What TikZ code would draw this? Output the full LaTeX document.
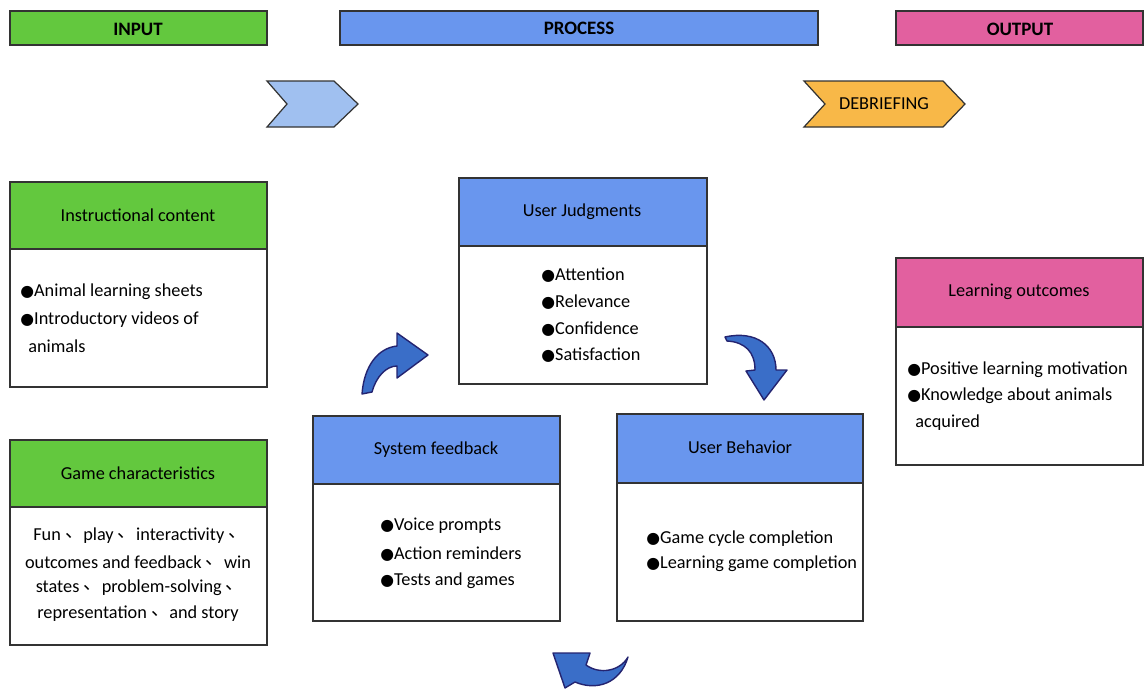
\documentclass[tikz,border=0pt]{standalone}
\usepackage{fontspec}
\setmainfont{Carlito}
\newfontfamily\symfont{DejaVu Sans}
\newfontfamily\cjk{Noto Sans CJK SC}
\definecolor{ingreen}{HTML}{63C83E}
\definecolor{procblue}{HTML}{6996EE}
\definecolor{outpink}{HTML}{E2609F}
\definecolor{chevblue}{HTML}{A0C0F0}
\definecolor{debrief}{HTML}{F8B848}
\definecolor{turnblue}{HTML}{3A6EC8}
\definecolor{edge}{HTML}{333333}
\newcommand{\bul}{{\symfont\small ●}}
\newcommand{\sep}{{\cjk\raisebox{0.35ex}{、}}}
\begin{document}
\begin{tikzpicture}[x=0.02cm,y=-0.02cm,
    box/.style={draw=edge,line width=0.7pt},
    lbl/.style={font=\fontsize{10.4}{12}\selectfont,inner sep=0pt},
    head/.style={font=\bfseries\fontsize{10.8}{12}\selectfont,inner sep=0pt},
    turn/.style={draw=edge!70!blue,line width=0.8pt,fill=turnblue,line join=round}]
  \useasboundingbox (0,0) rectangle (1145,691);
  % stage bars
  \draw[box,fill=ingreen] (10,11) rectangle (267,45);
  \draw[box,fill=procblue] (340,11) rectangle (818,45);
  \draw[box,fill=outpink] (896,11) rectangle (1143,45);
  \node[head] (input) at (138,29) {INPUT};
  \node[head] (process) at (579,28) {PROCESS};
  \node[head] (output) at (1020,29) {OUTPUT};
  % chevrons
  \draw[box,fill=chevblue] (267,81) -- (334,81) -- (358,104) -- (334,127)
    -- (267,127) -- (287,104) -- cycle;
  \draw[box,fill=debrief] (804,81) -- (943,81) -- (965,104) -- (943,127)
    -- (804,127) -- (825,104) -- cycle;
  \node[lbl] (debr) at (884,104) {DEBRIEFING};
  % input boxes
  \draw[box,fill=ingreen] (10,182) rectangle (267,249);
  \draw[box] (10,249) rectangle (267,387);
  \node[lbl] (instr) at (138,215) {Instructional content};
  \node[lbl,anchor=west] (instr1) at (20,292) {\bul Animal learning sheets};
  \node[lbl,anchor=west] (instr2) at (20,320) {\bul Introductory videos of};
  \node[lbl,anchor=west] (instr3) at (28,346) {animals};
  \draw[box,fill=ingreen] (10,440) rectangle (267,507);
  \draw[box] (10,507) rectangle (267,645);
  \node[lbl] (game) at (138,473) {Game characteristics};
  \node[lbl] (game1) at (140,536) {Fun \sep play \sep interactivity \sep};
  \node[lbl] (game2) at (138,562) {outcomes and feedback \sep win};
  \node[lbl] (game3) at (140,588) {states \sep problem-solving \sep};
  \node[lbl] (game4) at (138,614) {representation \sep and story};
  % process boxes
  \draw[box,fill=procblue] (459,178) rectangle (707,246);
  \draw[box] (459,246) rectangle (707,384);
  \node[lbl] (judge) at (582,212) {User Judgments};
  \node[lbl,anchor=west] (judge1) at (541,275) {\bul Attention};
  \node[lbl,anchor=west] (judge2) at (541,302) {\bul Relevance};
  \node[lbl,anchor=west] (judge3) at (541,329) {\bul Confidence};
  \node[lbl,anchor=west] (judge4) at (541,355) {\bul Satisfaction};
  \draw[box,fill=procblue] (313,416) rectangle (560,484);
  \draw[box] (313,484) rectangle (560,621);
  \node[lbl] (feed) at (436,450) {System feedback};
  \node[lbl,anchor=west] (feed1) at (380,526) {\bul Voice prompts};
  \node[lbl,anchor=west] (feed2) at (380,554) {\bul Action reminders};
  \node[lbl,anchor=west] (feed3) at (380,581) {\bul Tests and games};
  \draw[box,fill=procblue] (617,414) rectangle (863,483);
  \draw[box] (617,483) rectangle (863,621);
  \node[lbl] (behav) at (740,447) {User Behavior};
  \node[lbl,anchor=west] (behav1) at (646,539) {\bul Game cycle completion};
  \node[lbl,anchor=west] (behav2) at (646,564) {\bul Learning game completion};
  % output box
  \draw[box,fill=outpink] (896,258) rectangle (1143,327);
  \draw[box] (896,327) rectangle (1143,465);
  \node[lbl] (learn) at (1019,292) {Learning outcomes};
  \node[lbl,anchor=west] (learn1) at (907,370) {\bul Positive learning motivation};
  \node[lbl,anchor=west] (learn2) at (907,396) {\bul Knowledge about animals};
  \node[lbl,anchor=west] (learn3) at (915,423) {acquired};
  % cycle arrows
  \draw[turn] (362,394) .. controls (364,366) and (378,348) .. (397,346)
    -- (397,333) -- (428,355) -- (397,378) -- (397,366)
    .. controls (386,366) and (376,377) .. (372,392) -- cycle;
  \draw[turn] (725,337) .. controls (756,330) and (776,346) .. (776,370)
    -- (787,370) -- (764,400) -- (746,371) -- (755,370)
    .. controls (755,352) and (745,342) .. (727,341) -- cycle;
  \draw[turn] (628,657) .. controls (620,671) and (600,675) .. (586,665)
    -- (590,653) -- (553,653) -- (565,688) -- (575,682)
    .. controls (596,691) and (620,684) .. cycle;
\end{tikzpicture}
\end{document}
